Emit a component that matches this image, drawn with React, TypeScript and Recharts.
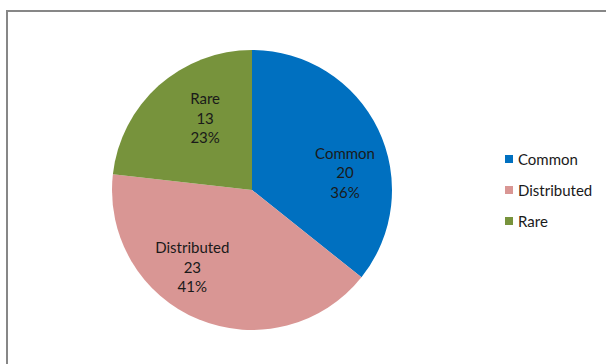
import React from "react";
import { PieChart, Pie, Cell, Legend } from "recharts";

const categories = ["Common", "Distributed", "Rare"];
const counts = [20, 23, 13];
const percentLabels = ["36%", "41%", "23%"];
const colors = ["#0070C0", "#D99694", "#77933C"];

const data = categories.map((name, i) => ({ name, value: counts[i], pct: percentLabels[i] }));

// label placement tweaks (angle offset in degrees, radius fraction)
const labelAngleShift = [-15.5, -15, -8.5];
const labelRadiusFrac = [0.675, 0.7, 0.61];

const FONT = "Lato, 'Open Sans', sans-serif";
const RAD = Math.PI / 180;

const renderLabel = (props: any) => {
  const { cx, cy, midAngle, outerRadius, index } = props;
  const ang = midAngle + labelAngleShift[index];
  const r = outerRadius * labelRadiusFrac[index];
  const x = cx + r * Math.cos(-ang * RAD);
  const y = cy + r * Math.sin(-ang * RAD);
  const d = data[index];
  return (
    <text x={x} y={y} textAnchor="middle" fill="#1a1a1a" fontFamily={FONT} fontSize={15}>
      <tspan x={x} dy={-14.5}>{d.name}</tspan>
      <tspan x={x} dy={19.5}>{d.value}</tspan>
      <tspan x={x} dy={19.5}>{d.pct}</tspan>
    </text>
  );
};

const renderLegend = () => (
  <div style={{ fontFamily: FONT, fontSize: 15, color: "#1a1a1a" }}>
    {data.map((d, i) => (
      <div key={d.name} style={{ display: "flex", alignItems: "center", height: 31 }}>
        <span style={{ display: "inline-block", width: 8, height: 8, background: colors[i], marginRight: 5 }} />
        <span>{d.name}</span>
      </div>
    ))}
  </div>
);

export default function App() {
  return (
    <div style={{ position: "absolute", left: 0, top: 0, width: 606, height: 364, overflow: "hidden", background: "#fff" }}>
      <div style={{ position: "absolute", left: 6, top: 10, width: 620, height: 380, border: "2px solid #878787", boxSizing: "border-box" }} />
      <div style={{ position: "absolute", left: 0, top: 0 }}>
        <PieChart width={606} height={364} margin={{ top: 0, right: 0, bottom: 0, left: 0 }}>
          <Pie
            data={data}
            dataKey="value"
            nameKey="name"
            cx={252}
            cy={190}
            outerRadius={140}
            startAngle={90}
            endAngle={-270}
            stroke="none"
            isAnimationActive={false}
            labelLine={false}
            label={renderLabel}
          >
            {data.map((d, i) => (
              <Cell key={d.name} fill={colors[i]} />
            ))}
          </Pie>
          <Legend
            layout="vertical"
            content={renderLegend}
            wrapperStyle={{ left: 505, top: 143, width: 100 }}
          />
        </PieChart>
      </div>
    </div>
  );
}
